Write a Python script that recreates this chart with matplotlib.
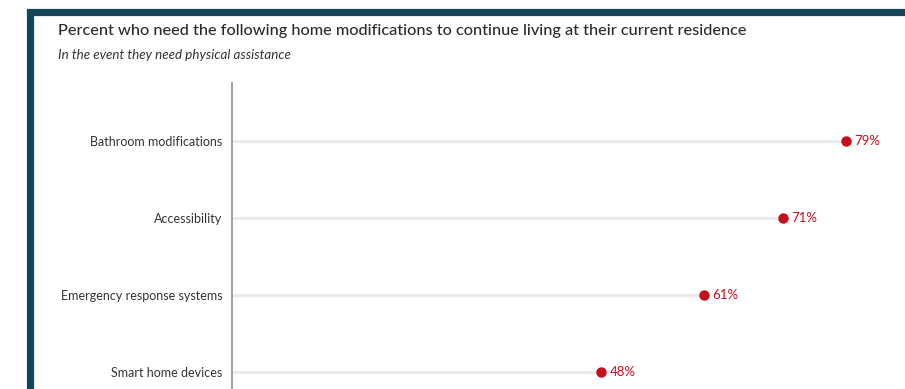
import matplotlib.pyplot as plt
from matplotlib.patches import Rectangle

categories = ["Bathroom modifications", "Accessibility",
              "Emergency response systems", "Smart home devices"]
percents = [79, 71, 61, 48]

W, H = 905, 389
plt.rcParams['font.family'] = ['Lato', 'DejaVu Sans']
fig = plt.figure(figsize=(W / 100, H / 100), dpi=100)

# dark frame around the card
fig.patches.append(Rectangle((30 / W, -0.2), 1, 1.2 - 11.5 / H, transform=fig.transFigure,
                             facecolor='white', edgecolor='#12465a', linewidth=5.2,
                             zorder=0))

fig.text(58 / W, 1 - 31 / H,
         "Percent who need the following home modifications to continue living at their current residence",
         fontsize=11.7, fontweight='medium', color='#2b2b2b', va='center', ha='left')
fig.text(58 / W, 1 - 55 / H, "In the event they need physical assistance",
         fontsize=9.6, style='italic', color='#333333', va='center', ha='left')

ax = fig.add_axes([232 / W, 0, (890 - 232) / W, (389 - 83) / H])
ax.set_facecolor('none')
ax.set_zorder(2)

ypos = list(range(len(categories) - 1, -1, -1))
xmin, xmax = 1.27, 84.6
for y, v in zip(ypos, percents):
    ax.plot([xmin, v], [y, y], color='#ebebeb', linewidth=2.5, zorder=1,
            solid_capstyle='butt')
    ax.plot(v, y, 'o', color='#c4101c', markersize=6.5, zorder=3)
    ax.annotate(f"{v}%", (v, y), xytext=(6, 0), textcoords='offset points',
                color='#c4101c', fontsize=9.5, va='center', ha='left')

ax.set_xlim(xmin, xmax)
ax.set_ylim(-0.22, 3.753)
ax.set_yticks(ypos)
ax.set_yticklabels(categories, fontsize=9, color='#333333')
ax.tick_params(axis='y', length=0, pad=7)
ax.set_xticks([])
for s in ['top', 'right', 'bottom']:
    ax.spines[s].set_visible(False)
ax.spines['left'].set_color('#999999')
ax.spines['left'].set_linewidth(1.3)

fig.savefig('out.png', dpi=100)
